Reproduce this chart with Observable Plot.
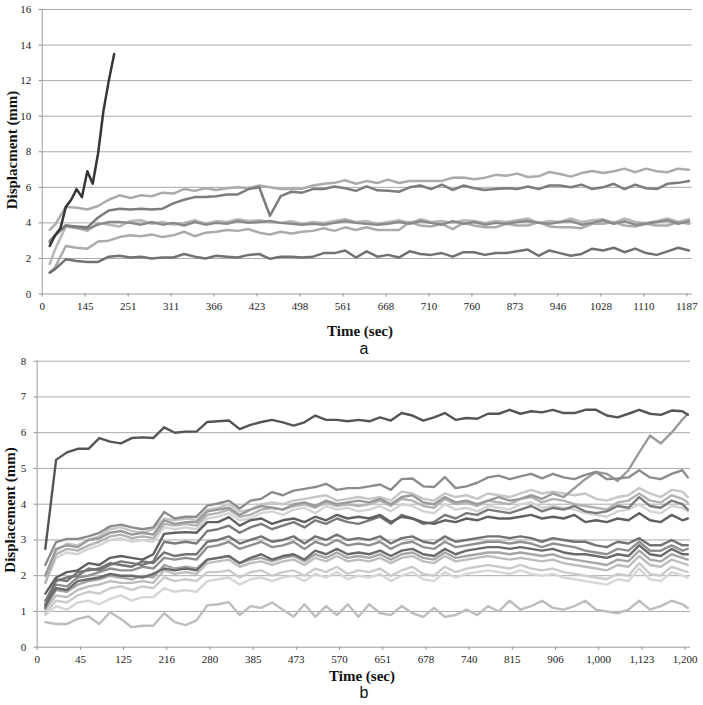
<!DOCTYPE html>
<html><head><meta charset="utf-8">
<script src="https://cdn.jsdelivr.net/npm/d3@7"></script>
<script src="https://cdn.jsdelivr.net/npm/@observablehq/plot@0.6"></script>
<style>
body{margin:0;background:#fff;}
#wrap{position:relative;width:703px;height:705px;overflow:hidden;background:#fff;}
.panel{position:absolute;left:0;}
.ttl{position:absolute;font-family:"Liberation Serif","DejaVu Serif","Noto Serif",Tinos,"Times New Roman",Times,serif;font-weight:bold;font-size:15px;color:#111;white-space:nowrap;transform:translate(-50%,-50%);}
.ytl{transform:translate(-50%,-50%) rotate(-90deg);}
.cap{position:absolute;font-family:"Liberation Sans",Arial,sans-serif;font-size:16px;color:#111;transform:translate(-50%,-50%);}
.panel svg [aria-label$="tick"] path{stroke:#8a8a8a;}
.panel svg text{font-family:"Liberation Serif","DejaVu Serif","Noto Serif",Tinos,"Times New Roman",Times,serif;}
</style></head><body>
<div id="wrap">
  <div class="panel" id="top" style="top:0px"></div>
  <div class="panel" id="bot" style="top:350px"></div>
  <div class="ttl ytl" style="left:12px;top:150px">Displacment (mm)</div>
  <div class="ttl" style="left:360px;top:331px">Time (sec)</div>
  <div class="cap" style="left:364px;top:349px">a</div>
  <div class="ttl ytl" style="left:10px;top:510px">Displacement (mm)</div>
  <div class="ttl" style="left:362px;top:676px">Time (sec)</div>
  <div class="cap" style="left:364px;top:693px">b</div>
</div>
<script>
// ---------- Panel a : tick labels ----------
const topXLabels = ["0","145","251","311","366","423","498","561","668","710","760","873","946","1028","1110","1187"];
const topYTicks = [0,2,4,6,8,10,12,14,16];
// sample positions (category index): k=1, then every 2nd category
const topK = [1, ...d3.range(2, 121, 2)];
const failK = d3.range(1, 14);

// ---------- Panel a : series ----------
const aFail = [2.7,3.3,3.7,4.9,5.3,5.9,5.45,6.9,6.2,7.9,10.3,12.0,13.5];
const aA = [3.6,
 3.9,4.9,4.85,4.75,4.95,5.3,5.55,5.4,5.55,5.5,
 5.7,5.65,5.9,5.8,5.95,5.85,5.95,6.0,5.95,6.1,
 6.0,5.9,5.9,5.92,6.1,6.2,6.25,6.4,6.2,6.35,
 6.24,6.43,6.24,6.36,6.36,6.36,6.36,6.54,6.55,6.45,
 6.54,6.7,6.65,6.77,6.58,6.62,6.86,6.75,6.6,6.8,
 6.92,6.8,6.9,7.05,6.85,7.05,6.9,6.85,7.05,6.99];
const aB = [2.9,
 3.3,3.85,3.8,3.75,4.3,4.7,4.8,4.75,4.8,4.75,
 4.8,5.1,5.3,5.45,5.45,5.5,5.6,5.6,5.9,6.0,
 4.4,5.5,5.75,5.7,5.9,5.9,6.05,5.95,5.8,6.05,
 5.83,5.8,5.75,6.0,6.1,5.9,6.15,5.85,6.1,5.95,
 5.85,5.9,5.95,5.9,6.05,5.9,6.1,6.1,6.0,6.15,
 5.9,6.0,6.2,5.9,6.15,5.95,5.9,6.2,6.25,6.35];
const aC = [3.0,
 3.3,3.85,3.75,3.65,3.9,4.05,4.05,4.0,3.9,4.05,
 3.9,4.0,3.85,4.05,3.9,4.0,3.95,4.1,4.0,4.05,
 4.1,4.0,3.95,3.9,3.95,3.9,4.0,4.1,4.0,3.95,
 3.9,3.95,4.05,3.95,4.1,4.0,3.9,4.1,3.95,4.05,
 3.9,4.0,3.95,4.05,4.1,4.0,3.95,4.05,4.1,3.9,
 4.0,4.15,3.95,4.1,3.9,3.95,4.05,4.15,3.95,4.1];
const aD = [1.7,
 2.5,3.8,3.7,3.55,4.0,3.9,3.8,4.1,4.15,3.95,
 4.05,3.9,4.0,4.15,3.95,4.1,4.05,4.2,4.1,4.15,
 4.05,4.0,4.1,3.95,4.05,4.0,4.1,4.2,4.05,4.1,
 3.95,4.05,4.15,4.0,4.2,4.05,4.1,4.0,4.15,4.1,
 4.0,4.1,4.05,4.15,4.25,4.0,4.1,4.05,4.25,4.05,
 4.15,4.2,4.0,4.25,4.05,4.0,4.1,4.25,4.05,4.2];
const aE = [1.2,
 1.5,2.7,2.6,2.55,2.95,3.0,3.2,3.3,3.25,3.35,
 3.2,3.3,3.5,3.25,3.45,3.5,3.6,3.55,3.65,3.45,
 3.35,3.5,3.4,3.5,3.55,3.7,3.55,3.75,3.6,3.75,
 3.6,3.6,3.6,4.05,3.85,3.8,3.95,3.65,4.0,3.85,
 3.75,3.75,3.95,3.85,3.85,4.05,3.8,3.75,3.75,3.7,
 3.95,3.95,4.05,3.85,3.8,3.95,3.85,3.85,4.05,3.95];
const aF = [1.2,
 1.4,1.95,1.85,1.8,1.8,2.1,2.15,2.05,2.1,2.0,
 2.05,2.05,2.25,2.1,2.0,2.15,2.1,2.05,2.2,2.25,
 1.98,2.1,2.1,2.05,2.1,2.3,2.3,2.45,2.05,2.4,
 2.1,2.2,2.05,2.4,2.25,2.2,2.3,2.1,2.35,2.35,
 2.2,2.3,2.3,2.4,2.5,2.15,2.45,2.3,2.15,2.25,
 2.55,2.45,2.6,2.35,2.55,2.3,2.2,2.4,2.6,2.45];

// ---------- Panel b : tick labels ----------
const botXLabels = ["0","45","125","216","280","385","473","570","651","678","740","815","906","1,000","1,123","1,200"];
const botYTicks = [0,1,2,3,4,5,6,7,8];
const botK = [...d3.range(1, 120, 2), 120];

// ---------- Panel b : series ----------
const bP1 = [
 2.75,5.24,5.45,5.55,5.55,5.85,5.75,5.7,5.85,5.87,
 5.85,6.15,6.0,6.03,6.03,6.3,6.32,6.34,6.1,6.22,
 6.3,6.36,6.29,6.2,6.29,6.48,6.36,6.36,6.32,6.36,
 6.32,6.43,6.34,6.55,6.48,6.34,6.43,6.55,6.36,6.41,
 6.39,6.53,6.53,6.64,6.53,6.6,6.57,6.64,6.55,6.55,
 6.64,6.64,6.48,6.43,6.53,6.64,6.53,6.5,6.62,6.6,
 6.5];
const bP2 = [
 2.3,2.94,3.03,3.03,3.1,3.2,3.38,3.43,3.35,3.3,
 3.35,3.78,3.6,3.65,3.65,3.96,4.02,4.1,3.88,4.1,
 4.15,4.34,4.25,4.38,4.43,4.48,4.57,4.4,4.45,4.45,
 4.5,4.55,4.4,4.7,4.72,4.5,4.48,4.76,4.45,4.5,
 4.6,4.75,4.8,4.7,4.78,4.85,4.72,4.85,4.75,4.7,
 4.82,4.9,4.7,4.72,4.75,4.95,4.75,4.7,4.85,4.95,
 4.75];
const bP3 = [
 2.0,2.75,2.85,2.8,3.0,3.05,3.2,3.25,3.15,3.2,
 3.15,3.55,3.45,3.5,3.5,3.8,3.85,3.9,3.7,3.85,
 3.95,3.9,3.85,4.0,4.05,3.95,4.1,4.0,4.05,4.1,
 4.05,4.15,4.0,4.2,4.25,4.05,4.0,4.2,4.05,4.1,
 4.0,4.1,4.2,4.1,4.15,4.25,4.15,4.3,4.2,4.45,
 4.7,4.9,4.85,4.65,4.95,5.45,5.92,5.7,6.0,6.37,
 6.53];
const bL1 = [
 2.0,2.7,2.9,2.85,3.0,3.1,3.3,3.35,3.25,3.2,
 3.3,3.6,3.55,3.6,3.55,3.85,3.9,4.0,3.8,3.85,
 4.0,4.05,4.0,4.1,4.15,4.2,4.25,4.1,4.15,4.2,
 4.15,4.2,4.1,4.35,4.3,4.15,4.1,4.3,4.2,4.25,
 4.15,4.3,4.25,4.2,4.3,4.4,4.3,4.35,4.3,4.25,
 4.3,4.15,4.1,4.2,4.25,4.45,4.3,4.2,4.4,4.35,
 4.2];
const bL2 = [
 1.8,2.6,2.75,2.7,2.85,2.95,3.1,3.15,3.05,3.1,
 3.05,3.45,3.4,3.45,3.4,3.7,3.75,3.85,3.65,3.7,
 3.85,3.9,3.85,3.95,4.0,3.9,4.05,3.95,4.0,3.95,
 4.0,4.1,3.95,4.15,4.1,3.95,3.9,4.15,4.0,4.05,
 3.95,4.1,4.05,4.0,4.15,4.2,4.05,4.15,4.1,4.0,
 3.95,3.9,3.85,4.05,4.1,4.3,4.1,4.05,4.25,4.15,
 4.05];
const bL3 = [
 1.8,2.5,2.65,2.6,2.75,2.85,3.0,3.05,2.95,3.0,
 2.95,3.35,3.3,3.35,3.3,3.6,3.65,3.75,3.55,3.6,
 3.75,3.8,3.7,3.85,3.9,3.75,3.95,3.85,3.9,3.8,
 3.85,3.95,3.8,4.0,3.95,3.8,3.75,4.0,3.85,3.9,
 3.8,3.95,3.9,3.85,4.0,4.05,3.9,3.95,3.9,3.85,
 3.75,3.7,3.65,3.8,3.85,4.0,3.8,3.75,3.95,3.9,
 3.8];
const bD1 = [
 1.5,1.95,2.1,2.15,2.35,2.3,2.5,2.55,2.5,2.45,
 2.6,3.17,3.2,3.22,3.2,3.5,3.5,3.64,3.4,3.55,
 3.6,3.45,3.55,3.6,3.5,3.65,3.55,3.7,3.6,3.65,
 3.6,3.7,3.5,3.65,3.6,3.5,3.45,3.55,3.5,3.6,
 3.55,3.65,3.6,3.6,3.65,3.7,3.6,3.65,3.6,3.7,
 3.5,3.55,3.5,3.6,3.55,3.75,3.55,3.5,3.7,3.55,
 3.6];
const bD2 = [
 1.3,1.85,1.95,2.0,2.2,2.15,2.3,2.4,2.35,2.3,
 2.4,2.95,2.9,2.95,2.9,3.25,3.3,3.4,3.2,3.35,
 3.45,3.3,3.4,3.5,3.35,3.55,3.45,3.6,3.5,3.45,
 3.55,3.65,3.45,3.7,3.6,3.45,3.5,3.7,3.6,3.75,
 3.7,3.85,3.8,3.75,3.85,3.95,3.8,3.9,3.85,3.95,
 3.8,3.75,3.8,3.95,3.9,4.2,3.95,3.9,4.1,4.0,
 3.85];
const bM1 = [
 1.1,1.9,1.85,2.1,2.15,2.2,2.35,2.3,2.25,2.4,
 2.35,2.65,2.55,2.6,2.6,2.95,3.0,3.1,2.9,3.0,
 3.1,2.95,3.0,3.1,2.9,3.1,3.0,3.15,3.0,3.05,
 3.0,3.1,2.9,3.05,3.1,2.95,2.9,3.1,2.95,3.0,
 3.05,3.1,3.1,3.05,3.1,3.05,2.95,3.05,3.0,2.95,
 2.95,2.85,2.8,2.95,2.9,3.05,2.85,2.85,3.0,2.85,
 2.85];
const bM2 = [
 1.15,1.75,1.7,1.95,2.0,2.1,2.2,2.15,2.15,2.25,
 2.2,2.5,2.45,2.5,2.45,2.8,2.85,2.95,2.75,2.85,
 2.95,2.8,2.85,2.95,2.75,2.95,2.85,3.0,2.85,2.9,
 2.85,2.95,2.75,2.9,2.95,2.8,2.75,2.95,2.8,2.85,
 2.9,2.95,2.95,2.9,2.95,2.9,2.8,2.9,2.85,2.8,
 2.7,2.65,2.6,2.75,2.7,2.95,2.7,2.7,2.85,2.7,
 2.75];
const bM3 = [
 1.2,1.65,1.6,1.85,1.9,1.95,2.05,2.0,2.0,1.95,
 2.05,2.2,2.15,2.2,2.15,2.45,2.5,2.55,2.35,2.5,
 2.6,2.45,2.55,2.6,2.45,2.7,2.6,2.75,2.6,2.65,
 2.6,2.7,2.55,2.7,2.75,2.6,2.55,2.75,2.6,2.7,
 2.75,2.8,2.8,2.75,2.8,2.75,2.7,2.75,2.65,2.6,
 2.6,2.55,2.5,2.6,2.55,2.85,2.6,2.55,2.75,2.6,
 2.6];
const bM4 = [
 1.1,1.6,1.55,1.75,1.85,1.9,2.0,1.95,1.9,2.0,
 1.95,2.3,2.2,2.25,2.2,2.45,2.5,2.55,2.35,2.45,
 2.5,2.4,2.5,2.55,2.4,2.6,2.5,2.65,2.5,2.55,
 2.5,2.6,2.45,2.6,2.65,2.5,2.45,2.65,2.5,2.55,
 2.6,2.65,2.65,2.6,2.65,2.6,2.55,2.6,2.5,2.45,
 2.4,2.35,2.3,2.45,2.4,2.7,2.45,2.4,2.6,2.5,
 2.45];
const bM5 = [
 1.05,1.45,1.4,1.6,1.7,1.75,1.85,1.8,1.8,1.85,
 1.8,2.15,2.05,2.1,2.05,2.35,2.4,2.45,2.25,2.35,
 2.4,2.3,2.4,2.45,2.3,2.5,2.4,2.55,2.4,2.45,
 2.4,2.5,2.35,2.5,2.55,2.4,2.35,2.55,2.4,2.45,
 2.5,2.55,2.5,2.45,2.5,2.45,2.4,2.45,2.35,2.3,
 2.25,2.2,2.15,2.3,2.25,2.55,2.3,2.25,2.45,2.35,
 2.3];
const bL4 = [
 0.95,1.3,1.25,1.45,1.55,1.5,1.65,1.7,1.6,1.7,
 1.65,1.95,1.85,1.9,1.85,2.1,2.1,2.15,1.95,2.1,
 2.15,2.0,2.1,2.15,2.0,2.2,2.1,2.25,2.05,2.15,
 2.1,2.2,2.0,2.15,2.25,2.05,2.0,2.25,2.1,2.2,
 2.25,2.3,2.25,2.2,2.3,2.2,2.15,2.2,2.1,2.05,
 2.0,1.95,1.9,2.05,2.0,2.35,2.05,2.0,2.25,2.15,
 2.1];
const bL5 = [
 0.9,1.15,1.05,1.25,1.3,1.2,1.35,1.45,1.3,1.4,
 1.4,1.65,1.55,1.6,1.55,1.85,1.9,1.95,1.75,1.9,
 1.95,1.85,1.95,2.0,1.85,2.05,1.95,2.1,1.9,2.0,
 1.95,2.05,1.85,2.0,2.1,1.9,1.85,2.1,1.95,2.05,
 2.1,2.15,2.1,2.05,2.15,2.05,2.0,2.05,1.95,1.9,
 1.85,1.8,1.75,1.9,1.85,2.2,1.9,1.85,2.1,2.0,
 1.95];
const bB1 = [
 0.7,0.65,0.65,0.79,0.86,0.65,0.98,0.79,0.56,0.6,
 0.6,0.95,0.7,0.62,0.75,1.17,1.2,1.26,0.9,1.15,
 1.1,1.25,1.05,0.85,1.2,0.85,1.15,0.9,1.2,0.85,
 1.2,0.95,0.9,1.15,0.95,0.85,1.1,0.85,0.9,1.05,
 0.9,1.15,1.0,1.3,1.05,1.15,1.3,1.1,1.05,1.15,
 1.3,1.05,1.0,0.95,1.05,1.3,1.05,1.15,1.3,1.2,
 1.1];

// ---------- styles (kept apart from data) ----------
const topSeries = [
  {v: aD, k: topK, c: "#b8b8b8"},
  {v: aE, k: topK, c: "#ababab"},
  {v: aA, k: topK, c: "#ababab"},
  {v: aC, k: topK, c: "#8a8a8a"},
  {v: aB, k: topK, c: "#7c7c7c"},
  {v: aF, k: topK, c: "#717171"},
  {v: aFail, k: failK, c: "#363636"}
];
const botSeries = [
  {v: bL3, c: "#d3d3d3"}, {v: bL5, c: "#d6d6d6"}, {v: bL1, c: "#c6c6c6"},
  {v: bL4, c: "#cbcbcb"}, {v: bM5, c: "#bdbdbd"}, {v: bB1, c: "#bdbdbd"},
  {v: bL2, c: "#b3b3b3"}, {v: bM4, c: "#a6a6a6"}, {v: bP3, c: "#9a9a9a"},
  {v: bM2, c: "#909090"}, {v: bP2, c: "#8c8c8c"}, {v: bD2, c: "#7b7b7b"},
  {v: bM1, c: "#737373"}, {v: bM3, c: "#6a6a6a"}, {v: bD1, c: "#606060"},
  {v: bP1, c: "#555555"}
];

function lineMarks(series, K, off, sw) {
  return series.map(s => {
    const kk = s.k || K;
    const pts = s.v.map((y, i) => ({x: kk[i] + off, y}));
    return Plot.line(pts, {x: "x", y: "y", stroke: s.c, strokeWidth: sw, strokeLinejoin: "round", strokeLinecap: "round"});
  });
}

const serifStack = "'Liberation Serif','DejaVu Serif','Noto Serif',Tinos,'Times New Roman',Times,serif";
const baseStyle = {fontFamily: serifStack, fontSize: "11px", color: "#222", background: "transparent", overflow: "visible"};

const topPlot = Plot.plot({
  width: 703, height: 320,
  marginLeft: 41.7, marginRight: 11.3, marginTop: 9, marginBottom: 26.5,
  style: baseStyle,
  x: {domain: [0, 121], ticks: d3.range(0, 121, 8), tickFormat: d => topXLabels[Math.round(d / 8)], tickSize: 3, tickPadding: 5, label: null},
  y: {domain: [0, 16], ticks: topYTicks, tickSize: 3, tickPadding: 8, label: null},
  marks: [
    Plot.ruleY(topYTicks.filter(d => d > 0), {stroke: "#a9a9a9", strokeWidth: 1}),
    Plot.ruleY([0], {stroke: "#9a9a9a", strokeWidth: 1}),
    Plot.ruleX([0], {stroke: "#9a9a9a", strokeWidth: 1}),
    ...lineMarks(topSeries, topK, 0.4, 2.5)
  ]
});
document.getElementById("top").appendChild(topPlot);

const botPlot = Plot.plot({
  width: 703, height: 320,
  marginLeft: 36.7, marginRight: 13, marginTop: 10.7, marginBottom: 23.3,
  style: baseStyle,
  x: {domain: [0, 121], ticks: d3.range(0, 121, 8), tickFormat: d => botXLabels[Math.round(d / 8)], tickSize: 3, tickPadding: 5, label: null},
  y: {domain: [0, 8], ticks: botYTicks, tickSize: 3, tickPadding: 8, label: null},
  marks: [
    Plot.ruleY(botYTicks.filter(d => d > 0), {stroke: "#a9a9a9", strokeWidth: 1}),
    Plot.ruleY([0], {stroke: "#9a9a9a", strokeWidth: 1}),
    Plot.ruleX([0], {stroke: "#9a9a9a", strokeWidth: 1}),
    ...lineMarks(botSeries, botK, 0.5, 2.4)
  ]
});
document.getElementById("bot").appendChild(botPlot);
</script>
</body></html>
